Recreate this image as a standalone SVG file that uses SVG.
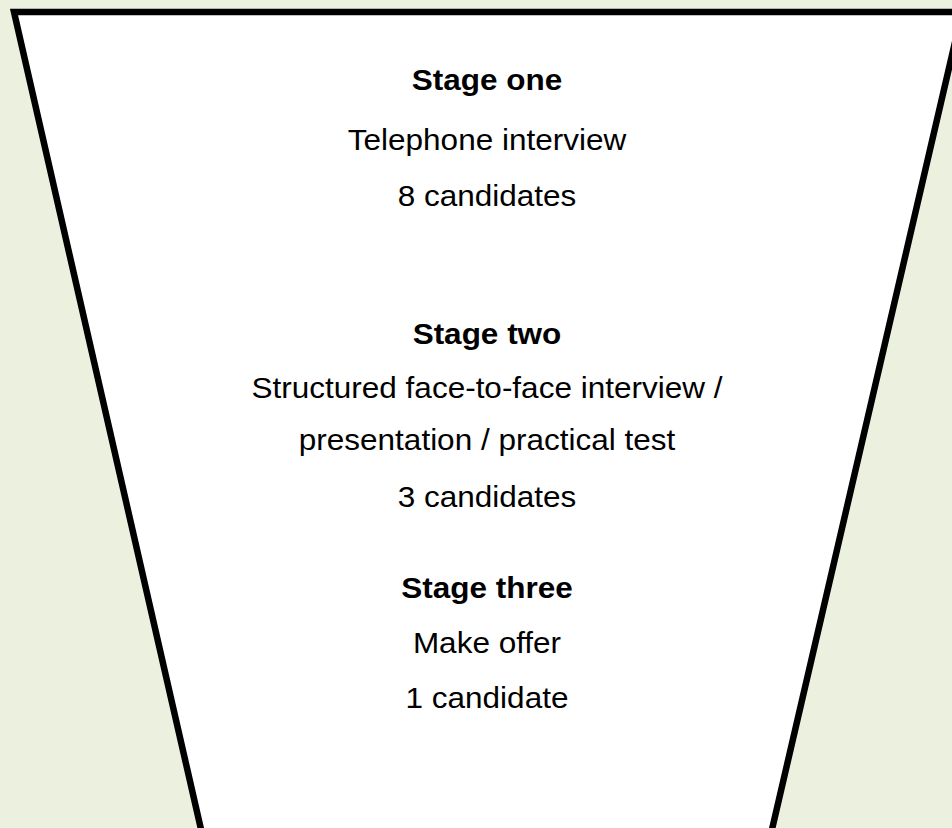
<svg xmlns="http://www.w3.org/2000/svg" width="952" height="828" viewBox="0 0 952 828">
<style>
.t{font-family:"Liberation Sans",Arial,sans-serif;font-size:30px;fill:#000;text-anchor:middle}
.b{font-weight:bold}
</style>
<rect width="952" height="828" fill="#EBF1DE"/>
<g id="funnel">
<polygon points="14,12 962,12 770,838 203,838" fill="#FFFFFF" stroke="#000" stroke-width="6.5" stroke-linejoin="miter"/>
</g>
<g id="stage1" transform="matrix(1.05,0,0,1,-24.35,0)">
<text class="t b" x="487" y="90">Stage one</text>
<text class="t" x="487" y="150">Telephone interview</text>
<text class="t" x="487" y="206">8 candidates</text>
</g>
<g id="stage2" transform="matrix(1.05,0,0,1,-24.35,0)">
<text class="t b" x="487" y="344">Stage two</text>
<text class="t" x="487" y="398">Structured face-to-face interview /</text>
<text class="t" x="487" y="450">presentation / practical test</text>
<text class="t" x="487" y="507">3 candidates</text>
</g>
<g id="stage3" transform="matrix(1.05,0,0,1,-24.35,0)">
<text class="t b" x="487" y="598">Stage three</text>
<text class="t" x="487" y="653">Make offer</text>
<text class="t" x="487" y="708">1 candidate</text>
</g>
<g id="connectors"/>
</svg>
